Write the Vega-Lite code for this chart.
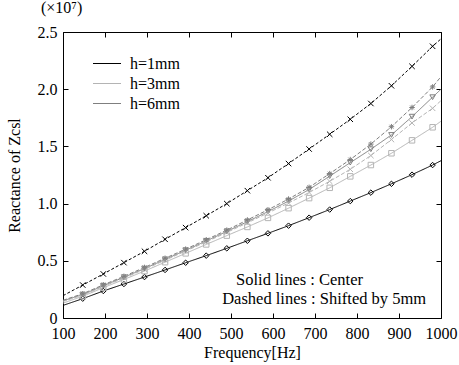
{
  "$schema": "https://vega.github.io/schema/vega-lite/v6.json",
  "width": 378,
  "height": 286,
  "autosize": "none",
  "padding": {"left": 63, "top": 32, "right": 18, "bottom": 47},
  "config": {
    "font": "Liberation Serif",
    "view": {"stroke": "#000000", "strokeWidth": 1},
    "axis": {
      "grid": false,
      "domain": false,
      "tickColor": "#000000",
      "tickSize": -5,
      "labelColor": "#000000",
      "labelFont": "Liberation Serif",
      "labelFontSize": 16,
      "labelOverlap": false,
      "labelFlush": false,
      "titleFont": "Liberation Serif",
      "titleFontSize": 16,
      "titleFontWeight": "normal",
      "titleColor": "#000000"
    }
  },
  "title": {"text": "(×10⁷)", "anchor": "start", "frame": "group", "dx": -22, "offset": 8, "fontSize": 16, "fontWeight": "normal", "font": "Liberation Serif", "color": "#000000"},
  "datasets": {
    "curves": [
      {"f": 100, "h=1mm": 0.11, "h=1mm s": 0.195, "h=3mm": 0.13, "h=3mm s": 0.145, "h=6mm": 0.15, "h=6mm s": 0.155},
      {"f": 147, "h=1mm": 0.169, "h=1mm s": 0.288, "h=3mm": 0.19, "h=3mm s": 0.2, "h=6mm": 0.205, "h=6mm s": 0.212},
      {"f": 196, "h=1mm": 0.236, "h=1mm s": 0.385, "h=3mm": 0.265, "h=3mm s": 0.276, "h=6mm": 0.282, "h=6mm s": 0.29},
      {"f": 245, "h=1mm": 0.297, "h=1mm s": 0.484, "h=3mm": 0.337, "h=3mm s": 0.35, "h=6mm": 0.356, "h=6mm s": 0.364},
      {"f": 294, "h=1mm": 0.358, "h=1mm s": 0.583, "h=3mm": 0.41, "h=3mm s": 0.425, "h=6mm": 0.432, "h=6mm s": 0.442},
      {"f": 343, "h=1mm": 0.42, "h=1mm s": 0.688, "h=3mm": 0.488, "h=3mm s": 0.505, "h=6mm": 0.512, "h=6mm s": 0.522},
      {"f": 392, "h=1mm": 0.483, "h=1mm s": 0.79, "h=3mm": 0.565, "h=3mm s": 0.585, "h=6mm": 0.592, "h=6mm s": 0.602},
      {"f": 441, "h=1mm": 0.545, "h=1mm s": 0.894, "h=3mm": 0.643, "h=3mm s": 0.665, "h=6mm": 0.673, "h=6mm s": 0.684},
      {"f": 490, "h=1mm": 0.609, "h=1mm s": 1.0, "h=3mm": 0.72, "h=3mm s": 0.748, "h=6mm": 0.757, "h=6mm s": 0.768},
      {"f": 539, "h=1mm": 0.675, "h=1mm s": 1.113, "h=3mm": 0.796, "h=3mm s": 0.832, "h=6mm": 0.842, "h=6mm s": 0.857},
      {"f": 588, "h=1mm": 0.74, "h=1mm s": 1.226, "h=3mm": 0.875, "h=3mm s": 0.918, "h=6mm": 0.93, "h=6mm s": 0.946},
      {"f": 637, "h=1mm": 0.807, "h=1mm s": 1.35, "h=3mm": 0.96, "h=3mm s": 1.005, "h=6mm": 1.022, "h=6mm s": 1.04},
      {"f": 686, "h=1mm": 0.877, "h=1mm s": 1.477, "h=3mm": 1.048, "h=3mm s": 1.097, "h=6mm": 1.123, "h=6mm s": 1.142},
      {"f": 735, "h=1mm": 0.948, "h=1mm s": 1.606, "h=3mm": 1.138, "h=3mm s": 1.195, "h=6mm": 1.24, "h=6mm s": 1.262},
      {"f": 784, "h=1mm": 1.022, "h=1mm s": 1.737, "h=3mm": 1.238, "h=3mm s": 1.3, "h=6mm": 1.358, "h=6mm s": 1.385},
      {"f": 833, "h=1mm": 1.096, "h=1mm s": 1.875, "h=3mm": 1.337, "h=3mm s": 1.42, "h=6mm": 1.475, "h=6mm s": 1.52},
      {"f": 882, "h=1mm": 1.173, "h=1mm s": 2.03, "h=3mm": 1.44, "h=3mm s": 1.56, "h=6mm": 1.6, "h=6mm s": 1.672},
      {"f": 931, "h=1mm": 1.253, "h=1mm s": 2.2, "h=3mm": 1.553, "h=3mm s": 1.705, "h=6mm": 1.76, "h=6mm s": 1.84},
      {"f": 980, "h=1mm": 1.337, "h=1mm s": 2.375, "h=3mm": 1.667, "h=3mm s": 1.833, "h=6mm": 1.93, "h=6mm s": 2.02},
      {"f": 1000, "h=1mm": 1.375, "h=1mm s": 2.44, "h=3mm": 1.72, "h=3mm s": 1.9, "h=6mm": 2.0, "h=6mm s": 2.11}
    ]
  },
  "resolve": {"axis": {"x": "independent", "y": "independent"}, "scale": {"color": "independent"}},
  "layer": [
    {
      "data": {"name": "curves"},
      "transform": [
        {"fold": ["h=1mm", "h=3mm", "h=6mm", "h=1mm s", "h=3mm s", "h=6mm s"], "as": ["key", "v"]}
      ],
      "mark": {"type": "line", "strokeWidth": 1, "clip": true},
      "encoding": {
        "x": {"field": "f", "type": "quantitative", "scale": {"domain": [100, 1000], "nice": false},
              "axis": {"orient": "bottom", "values": [100, 200, 300, 400, 500, 600, 700, 800, 900, 1000], "format": "d", "title": "Frequency[Hz]", "labelPadding": 12, "titlePadding": 3}},
        "y": {"field": "v", "type": "quantitative", "scale": {"domain": [0, 2.5], "nice": false},
              "axis": {"orient": "left", "values": [0, 0.5, 1, 1.5, 2, 2.5], "labelExpr": "datum.value == 0 ? '0' : format(datum.value, '.1f')", "title": "Reactance of Zcsl", "labelPadding": 11, "titlePadding": 15}},
        "color": {"field": "key", "type": "nominal",
                  "scale": {"domain": ["h=1mm", "h=3mm", "h=6mm", "h=1mm s", "h=3mm s", "h=6mm s"], "range": ["#000000", "#b4b4b4", "#7f7f7f", "#000000", "#b4b4b4", "#7f7f7f"]},
                  "legend": {"orient": "none", "legendX": 36, "legendY": 23.5, "title": null, "values": ["h=1mm", "h=3mm", "h=6mm"],
                             "symbolType": "M-2,0L2,0", "symbolSize": 196, "symbolStrokeWidth": 1, "labelOffset": 15,
                             "labelFontSize": 16, "labelFont": "Liberation Serif", "labelColor": "#000000", "rowPadding": 4, "padding": 0}},
        "strokeDash": {"field": "key", "type": "nominal",
                       "scale": {"domain": ["h=1mm", "h=3mm", "h=6mm", "h=1mm s", "h=3mm s", "h=6mm s"], "range": [[1, 0], [1, 0], [1, 0], [3, 2], [4, 2], [4, 2]]},
                       "legend": null}
      }
    },
    {
      "data": {"name": "curves"},
      "transform": [
        {"fold": ["h=1mm", "h=3mm", "h=6mm", "h=1mm s", "h=3mm s", "h=6mm s"], "as": ["series", "val"]},
        {"filter": "datum.f > 140 && datum.f < 990"}
      ],
      "mark": {"type": "point", "filled": false, "strokeWidth": 1, "size": 30, "opacity": 1},
      "encoding": {
        "x": {"field": "f", "type": "quantitative", "axis": {"orient": "top", "labels": false, "title": null, "values": [100, 200, 300, 400, 500, 600, 700, 800, 900, 1000]}},
        "y": {"field": "val", "type": "quantitative", "axis": {"orient": "right", "labels": false, "title": null, "values": [0, 0.5, 1, 1.5, 2, 2.5]}},
        "color": {"field": "series", "type": "nominal",
                  "scale": {"domain": ["h=1mm", "h=3mm", "h=6mm", "h=1mm s", "h=3mm s", "h=6mm s"], "range": ["#000000", "#b4b4b4", "#7f7f7f", "#000000", "#b4b4b4", "#7f7f7f"]},
                  "legend": null},
        "shape": {"field": "series", "type": "nominal",
                  "scale": {"domain": ["h=1mm", "h=3mm", "h=6mm", "h=1mm s", "h=3mm s", "h=6mm s"],
                            "range": ["diamond", "square", "triangle-down", "M-1,-1L1,1M-1,1L1,-1", "M-1,-1L1,1M-1,1L1,-1", "M-1,0L1,0M0,-1L0,1M-0.7,-0.7L0.7,0.7M-0.7,0.7L0.7,-0.7"]},
                  "legend": null}
      }
    },
    {
      "data": {"values": [{}]},
      "mark": {"type": "text", "text": "Solid lines : Center", "align": "left", "baseline": "middle", "fontSize": 16.5, "font": "Liberation Serif", "color": "#000000"},
      "encoding": {
        "x": {"datum": 512, "type": "quantitative", "axis": null},
        "y": {"datum": 0.332, "type": "quantitative", "axis": null}
      }
    },
    {
      "data": {"values": [{}]},
      "mark": {"type": "text", "text": "Dashed lines : Shifted by 5mm", "align": "left", "baseline": "middle", "fontSize": 16.5, "font": "Liberation Serif", "color": "#000000"},
      "encoding": {
        "x": {"datum": 479, "type": "quantitative", "axis": null},
        "y": {"datum": 0.163, "type": "quantitative", "axis": null}
      }
    }
  ]
}
